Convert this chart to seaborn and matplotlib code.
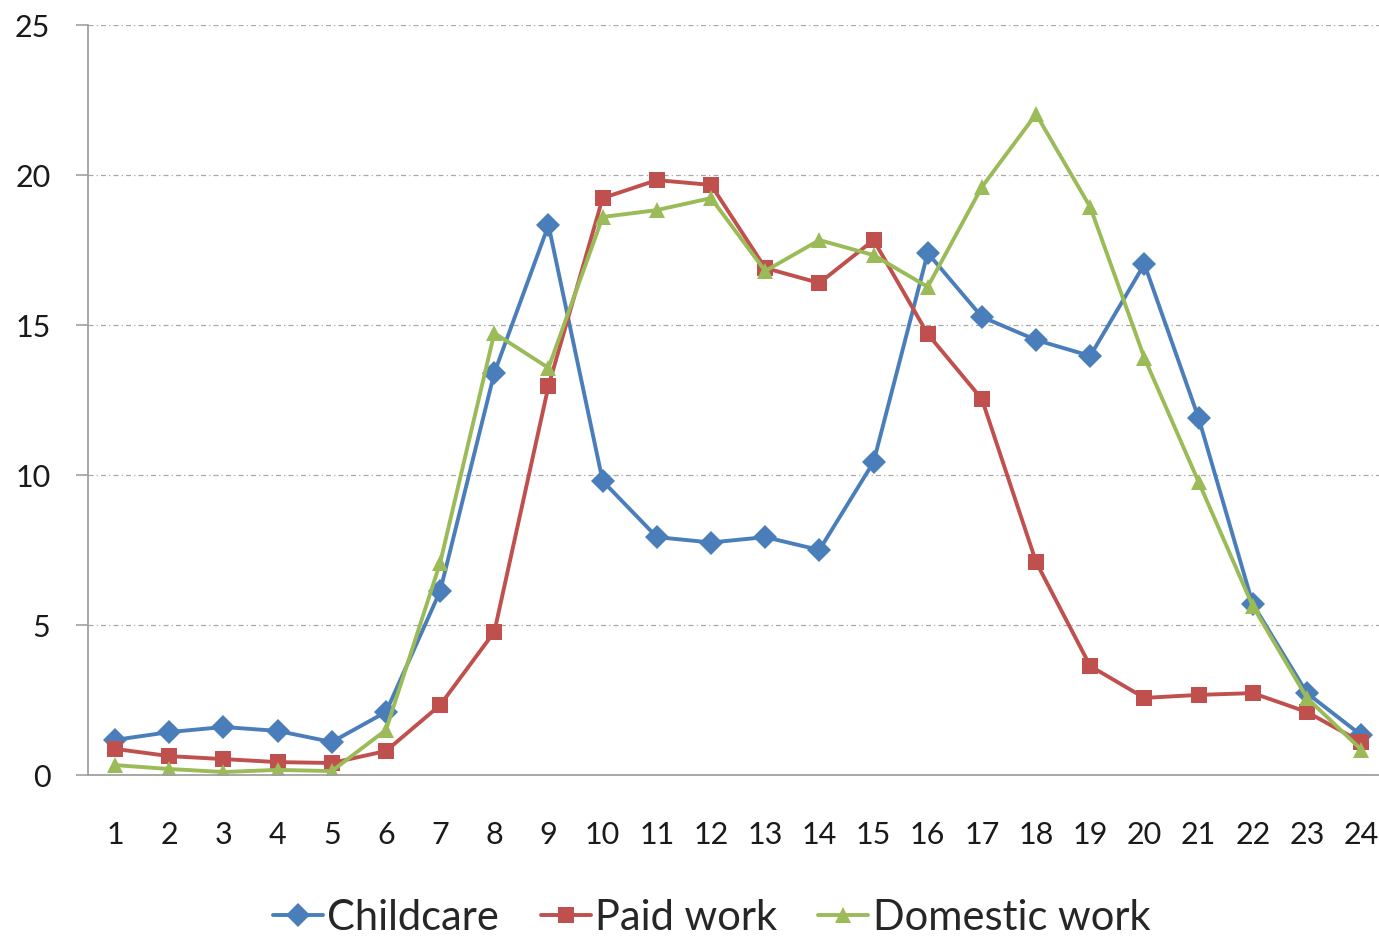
"""Hourly profile of childcare, paid work and domestic work."""

import matplotlib.pyplot as plt
import pandas as pd
import seaborn as sns

HOURS = list(range(1, 25))
CHILDCARE = [1.17, 1.43, 1.6, 1.47, 1.1, 2.1, 6.13, 13.4, 18.33, 9.8, 7.93, 7.75,
             7.93, 7.5, 10.43, 17.4, 15.27, 14.5, 13.97, 17.03, 11.9, 5.7, 2.73, 1.33]
PAID_WORK = [0.87, 0.63, 0.53, 0.43, 0.4, 0.8, 2.33, 4.77, 12.97, 19.23, 19.83, 19.67,
             16.9, 16.4, 17.83, 14.7, 12.53, 7.1, 3.63, 2.57, 2.67, 2.73, 2.1, 1.1]
DOMESTIC = [0.33, 0.2, 0.1, 0.17, 0.13, 1.5, 7.07, 14.73, 13.57, 18.6, 18.83, 19.23,
            16.8, 17.83, 17.33, 16.27, 19.6, 22.03, 18.93, 13.9, 9.77, 5.63, 2.57, 0.85]
SERIES = ["Childcare", "Paid work", "Domestic work"]
COLORS = {"Childcare": "#4A7EBB", "Paid work": "#C0504D", "Domestic work": "#9BBB59"}
MARKERS = {"Childcare": "D", "Paid work": "s", "Domestic work": "^"}

df = pd.concat([
    pd.DataFrame({"hour": HOURS, "value": vals, "series": name})
    for name, vals in zip(SERIES, [CHILDCARE, PAID_WORK, DOMESTIC])
])

sns.set_theme(style="white")
plt.rcParams["font.family"] = ["Lato", "DejaVu Sans"]

fig = plt.figure(figsize=(13.79, 9.38), dpi=100)
ax = fig.add_axes([88 / 1379, 163 / 938, 1 - 88 / 1379, 750 / 938])

sns.lineplot(
    data=df, x="hour", y="value", hue="series", style="series",
    palette=COLORS, markers=MARKERS, dashes=False, linewidth=2.8,
    markersize=12, markeredgewidth=0, ax=ax,
)

ax.set_xlim(0.5, 24.33)
ax.set_ylim(0, 25)
ax.set_yticks([0, 5, 10, 15, 20, 25])
ax.set_xticks(HOURS)
ax.set_xticks([h + 0.5 for h in range(0, 24)], minor=True)
ax.tick_params(axis="x", which="major", length=0, pad=33, labelsize=22, labelcolor="#1a1a1a")
ax.tick_params(axis="x", which="minor", length=9, width=1.2, color="#a0a0a0", direction="out")
ax.tick_params(axis="y", length=9, width=1.2, color="#a0a0a0", pad=18,
               labelsize=22, labelcolor="#1a1a1a", left=True)
ax.set_xlabel("")
ax.set_ylabel("")

ax.yaxis.grid(True, color="#a8a8a8", linewidth=0.9, linestyle=(0, (4, 2.5, 1, 2.5)))
ax.set_axisbelow(True)
for side in ["top", "right"]:
    ax.spines[side].set_visible(False)
for side in ["left", "bottom"]:
    ax.spines[side].set_color("#a0a0a0")
    ax.spines[side].set_linewidth(1.3)

sns.move_legend(
    ax, "center", bbox_to_anchor=(0.483, -0.19), ncol=3, frameon=False, title=None,
    fontsize=30, handlelength=1.2, handletextpad=0.1, columnspacing=1.0,
)

fig.savefig("out.png", dpi=100)
